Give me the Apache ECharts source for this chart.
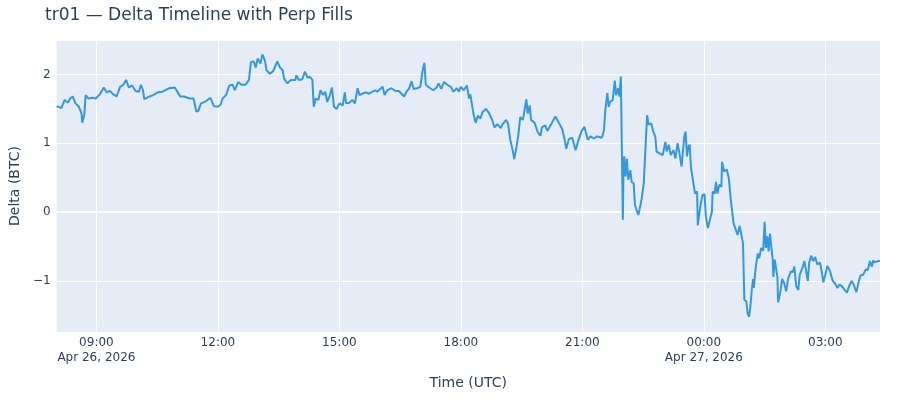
<!DOCTYPE html>
<html>
<head>
<meta charset="utf-8">
<script src="https://cdn.jsdelivr.net/npm/echarts@6/dist/echarts.min.js"></script>
<style>
  html, body { margin: 0; padding: 0; background: #fff; }
  #chart { width: 900px; height: 400px; }
</style>
</head>
<body>
<div id="chart"></div>
<script>
// delta readings
var times = [
  '2026-04-26 08:01','2026-04-26 08:08','2026-04-26 08:13','2026-04-26 08:18','2026-04-26 08:21','2026-04-26 08:25',
  '2026-04-26 08:29','2026-04-26 08:34','2026-04-26 08:38','2026-04-26 08:39','2026-04-26 08:42','2026-04-26 08:44',
  '2026-04-26 08:48','2026-04-26 08:55','2026-04-26 08:59','2026-04-26 09:05','2026-04-26 09:11','2026-04-26 09:15',
  '2026-04-26 09:20','2026-04-26 09:25','2026-04-26 09:30','2026-04-26 09:35','2026-04-26 09:40','2026-04-26 09:44',
  '2026-04-26 09:48','2026-04-26 09:53','2026-04-26 09:58','2026-04-26 10:03','2026-04-26 10:06','2026-04-26 10:09',
  '2026-04-26 10:11','2026-04-26 10:19','2026-04-26 10:24','2026-04-26 10:31','2026-04-26 10:38','2026-04-26 10:48',
  '2026-04-26 10:56','2026-04-26 11:00','2026-04-26 11:04','2026-04-26 11:10','2026-04-26 11:18','2026-04-26 11:24',
  '2026-04-26 11:28','2026-04-26 11:31','2026-04-26 11:35','2026-04-26 11:42','2026-04-26 11:49','2026-04-26 11:54',
  '2026-04-26 12:00','2026-04-26 12:04','2026-04-26 12:07','2026-04-26 12:12','2026-04-26 12:17','2026-04-26 12:22',
  '2026-04-26 12:25','2026-04-26 12:30','2026-04-26 12:35','2026-04-26 12:41','2026-04-26 12:46','2026-04-26 12:49',
  '2026-04-26 12:53','2026-04-26 12:56','2026-04-26 12:59','2026-04-26 13:03','2026-04-26 13:06','2026-04-26 13:10',
  '2026-04-26 13:12','2026-04-26 13:17','2026-04-26 13:22','2026-04-26 13:28','2026-04-26 13:32','2026-04-26 13:36',
  '2026-04-26 13:38','2026-04-26 13:43','2026-04-26 13:48','2026-04-26 13:55','2026-04-26 13:56','2026-04-26 14:00',
  '2026-04-26 14:05','2026-04-26 14:09','2026-04-26 14:13','2026-04-26 14:16','2026-04-26 14:20','2026-04-26 14:22',
  '2026-04-26 14:25','2026-04-26 14:29','2026-04-26 14:32','2026-04-26 14:36','2026-04-26 14:39','2026-04-26 14:42',
  '2026-04-26 14:46','2026-04-26 14:49','2026-04-26 14:52','2026-04-26 14:56','2026-04-26 15:00','2026-04-26 15:05',
  '2026-04-26 15:08','2026-04-26 15:10','2026-04-26 15:15','2026-04-26 15:19','2026-04-26 15:23','2026-04-26 15:27',
  '2026-04-26 15:30','2026-04-26 15:34','2026-04-26 15:39','2026-04-26 15:44','2026-04-26 15:49','2026-04-26 15:53',
  '2026-04-26 15:56','2026-04-26 16:04','2026-04-26 16:07','2026-04-26 16:11','2026-04-26 16:17','2026-04-26 16:23',
  '2026-04-26 16:28','2026-04-26 16:32','2026-04-26 16:36','2026-04-26 16:40','2026-04-26 16:43','2026-04-26 16:47',
  '2026-04-26 16:50','2026-04-26 16:55','2026-04-26 17:00','2026-04-26 17:03','2026-04-26 17:06','2026-04-26 17:08',
  '2026-04-26 17:13','2026-04-26 17:19','2026-04-26 17:24','2026-04-26 17:27','2026-04-26 17:31','2026-04-26 17:35',
  '2026-04-26 17:40','2026-04-26 17:45','2026-04-26 17:49','2026-04-26 17:54','2026-04-26 17:57','2026-04-26 18:00',
  '2026-04-26 18:04','2026-04-26 18:09','2026-04-26 18:12','2026-04-26 18:14','2026-04-26 18:19','2026-04-26 18:22',
  '2026-04-26 18:25','2026-04-26 18:29','2026-04-26 18:32','2026-04-26 18:37','2026-04-26 18:41','2026-04-26 18:46',
  '2026-04-26 18:50','2026-04-26 18:54','2026-04-26 18:59','2026-04-26 19:02','2026-04-26 19:07','2026-04-26 19:10',
  '2026-04-26 19:13','2026-04-26 19:17','2026-04-26 19:19','2026-04-26 19:22','2026-04-26 19:25','2026-04-26 19:28',
  '2026-04-26 19:32','2026-04-26 19:35','2026-04-26 19:37','2026-04-26 19:39','2026-04-26 19:42','2026-04-26 19:44',
  '2026-04-26 19:49','2026-04-26 19:54','2026-04-26 19:58','2026-04-26 20:00','2026-04-26 20:05','2026-04-26 20:08',
  '2026-04-26 20:11','2026-04-26 20:15','2026-04-26 20:20','2026-04-26 20:25','2026-04-26 20:30','2026-04-26 20:34',
  '2026-04-26 20:36','2026-04-26 20:40','2026-04-26 20:45','2026-04-26 20:50','2026-04-26 20:54','2026-04-26 20:59',
  '2026-04-26 21:03','2026-04-26 21:08','2026-04-26 21:12','2026-04-26 21:17','2026-04-26 21:22','2026-04-26 21:29',
  '2026-04-26 21:32','2026-04-26 21:34','2026-04-26 21:37','2026-04-26 21:39','2026-04-26 21:41','2026-04-26 21:45',
  '2026-04-26 21:48','2026-04-26 21:50','2026-04-26 21:53','2026-04-26 21:55','2026-04-26 21:57','2026-04-26 22:00',
  '2026-04-26 22:01','2026-04-26 22:02','2026-04-26 22:04','2026-04-26 22:06','2026-04-26 22:08','2026-04-26 22:11',
  '2026-04-26 22:13','2026-04-26 22:16','2026-04-26 22:18','2026-04-26 22:21','2026-04-26 22:23','2026-04-26 22:26',
  '2026-04-26 22:28','2026-04-26 22:31','2026-04-26 22:33','2026-04-26 22:36','2026-04-26 22:38','2026-04-26 22:42',
  '2026-04-26 22:45','2026-04-26 22:48','2026-04-26 22:50','2026-04-26 22:55','2026-04-26 22:59','2026-04-26 23:03',
  '2026-04-26 23:05','2026-04-26 23:08','2026-04-26 23:11','2026-04-26 23:15','2026-04-26 23:18','2026-04-26 23:21',
  '2026-04-26 23:24','2026-04-26 23:27','2026-04-26 23:31','2026-04-26 23:33','2026-04-26 23:35','2026-04-26 23:37',
  '2026-04-26 23:39','2026-04-26 23:41','2026-04-26 23:43','2026-04-26 23:47','2026-04-26 23:50','2026-04-26 23:51',
  '2026-04-26 23:55','2026-04-26 23:58','2026-04-27 00:01','2026-04-27 00:03','2026-04-27 00:06','2026-04-27 00:09',
  '2026-04-27 00:12','2026-04-27 00:13','2026-04-27 00:16','2026-04-27 00:18','2026-04-27 00:20','2026-04-27 00:23',
  '2026-04-27 00:26','2026-04-27 00:27','2026-04-27 00:30','2026-04-27 00:34','2026-04-27 00:37','2026-04-27 00:40',
  '2026-04-27 00:44','2026-04-27 00:46','2026-04-27 00:50','2026-04-27 00:53','2026-04-27 00:55','2026-04-27 00:58',
  '2026-04-27 01:00','2026-04-27 01:03','2026-04-27 01:05','2026-04-27 01:07','2026-04-27 01:09','2026-04-27 01:11',
  '2026-04-27 01:13','2026-04-27 01:14','2026-04-27 01:17','2026-04-27 01:20','2026-04-27 01:22','2026-04-27 01:25',
  '2026-04-27 01:28','2026-04-27 01:30','2026-04-27 01:32','2026-04-27 01:34','2026-04-27 01:36','2026-04-27 01:38',
  '2026-04-27 01:40','2026-04-27 01:42','2026-04-27 01:43','2026-04-27 01:45','2026-04-27 01:47','2026-04-27 01:49',
  '2026-04-27 01:50','2026-04-27 01:53','2026-04-27 01:56','2026-04-27 01:59','2026-04-27 02:02','2026-04-27 02:05',
  '2026-04-27 02:09','2026-04-27 02:12','2026-04-27 02:14','2026-04-27 02:17','2026-04-27 02:20','2026-04-27 02:22',
  '2026-04-27 02:26','2026-04-27 02:29','2026-04-27 02:31','2026-04-27 02:34','2026-04-27 02:36','2026-04-27 02:39',
  '2026-04-27 02:42','2026-04-27 02:45','2026-04-27 02:48','2026-04-27 02:52','2026-04-27 02:55','2026-04-27 02:57',
  '2026-04-27 03:00','2026-04-27 03:03','2026-04-27 03:07','2026-04-27 03:11','2026-04-27 03:14','2026-04-27 03:18',
  '2026-04-27 03:21','2026-04-27 03:24','2026-04-27 03:28','2026-04-27 03:32','2026-04-27 03:35','2026-04-27 03:39',
  '2026-04-27 03:42','2026-04-27 03:46','2026-04-27 03:49','2026-04-27 03:52','2026-04-27 03:56','2026-04-27 04:00',
  '2026-04-27 04:03','2026-04-27 04:06','2026-04-27 04:09','2026-04-27 04:11','2026-04-27 04:13','2026-04-27 04:18',
  '2026-04-27 04:21'
];
var delta = [
  1.54,1.51,1.63,1.59,1.65,1.68,
  1.58,1.53,1.43,1.30,1.41,1.70,
  1.65,1.66,1.65,1.71,1.81,1.74,
  1.76,1.71,1.68,1.82,1.85,1.92,
  1.81,1.84,1.76,1.75,1.85,1.77,
  1.64,1.68,1.70,1.74,1.75,1.80,
  1.81,1.75,1.68,1.68,1.65,1.65,
  1.46,1.47,1.58,1.61,1.66,1.54,
  1.53,1.56,1.65,1.70,1.84,1.85,
  1.77,1.89,1.85,1.85,1.92,2.18,
  2.19,2.10,2.23,2.16,2.29,2.19,
  2.06,2.01,2.05,2.19,2.10,2.06,
  1.94,1.87,1.92,1.92,1.99,1.92,
  1.93,2.04,1.95,1.97,1.92,1.53,
  1.65,1.63,1.77,1.70,1.75,1.60,
  1.70,1.81,1.53,1.50,1.58,1.55,
  1.74,1.58,1.59,1.63,1.58,1.80,
  1.70,1.72,1.74,1.72,1.75,1.77,
  1.75,1.82,1.70,1.77,1.80,1.76,
  1.76,1.72,1.68,1.76,1.79,1.90,
  1.79,1.80,1.82,2.04,2.17,1.85,
  1.81,1.77,1.81,1.87,1.79,1.89,
  1.85,1.82,1.75,1.80,1.75,1.82,
  1.77,1.84,1.65,1.71,1.41,1.30,
  1.40,1.36,1.45,1.50,1.45,1.35,
  1.23,1.28,1.22,1.28,1.34,1.28,
  1.06,0.89,0.77,0.92,1.11,1.38,
  1.34,1.52,1.64,1.43,1.55,1.34,
  1.30,1.16,1.11,1.23,1.26,1.18,
  1.23,1.30,1.39,1.30,1.21,1.04,
  0.92,1.06,1.08,0.90,1.04,1.18,
  1.24,1.05,1.10,1.07,1.10,1.08,
  1.19,1.48,1.73,1.53,1.60,1.63,
  1.91,1.70,1.80,1.68,1.97,-0.11,
  0.66,0.81,0.52,0.78,0.47,0.61,
  0.44,0.42,0.10,0.01,-0.04,0.10,
  0.20,0.42,0.83,1.41,1.27,1.29,
  1.17,1.10,0.88,0.85,0.83,1.02,
  0.88,0.98,0.83,0.90,0.78,1.00,
  0.85,0.66,1.10,1.17,0.81,0.95,
  0.98,0.64,0.66,0.27,0.30,-0.19,
  0.10,0.25,0.26,-0.06,-0.23,-0.11,
  0.01,0.30,0.27,0.44,0.27,0.40,
  0.37,0.73,0.59,0.62,0.49,0.18,
  -0.16,-0.14,-0.33,-0.20,-0.21,-0.45,
  -1.27,-1.30,-1.47,-1.52,-1.37,-1.13,
  -0.97,-1.10,-0.79,-0.60,-0.67,-0.52,
  -0.56,-0.14,-0.52,-0.35,-0.57,-0.31,
  -0.31,-0.69,-0.94,-0.69,-0.69,-0.94,
  -1.31,-1.18,-0.97,-1.03,-1.15,-0.96,
  -0.86,-0.87,-0.79,-1.08,-1.13,-0.91,
  -0.81,-0.71,-0.71,-1.00,-0.74,-0.63,
  -0.71,-0.65,-0.76,-0.73,-0.88,-1.02,
  -0.91,-0.78,-0.86,-1.00,-1.03,-1.10,
  -1.05,-1.07,-1.12,-1.17,-1.08,-1.00,
  -1.05,-1.16,-1.03,-0.92,-0.91,-0.83,
  -0.84,-0.71,-0.79,-0.70,-0.73,-0.71,
  -0.71
];
// x tick positions and the date line plotly puts under some of them
var xTicks = ['2026-04-26 09:00','2026-04-26 12:00','2026-04-26 15:00','2026-04-26 18:00',
              '2026-04-26 21:00','2026-04-27 00:00','2026-04-27 03:00'];
var xTickLabels = ['09:00','12:00','15:00','18:00','21:00','00:00','03:00'];
var xTickDates = ['Apr 26, 2026','','','','','Apr 27, 2026',''];

var chart = echarts.init(document.getElementById('chart'));

function ms(s) { return echarts.time.parse(s).getTime(); }

var pts = [];
for (var i = 0; i < times.length; i++) {
  pts.push([ms(times[i]), delta[i]]);
}
var tickMs = xTicks.map(ms);

var txt = '#2a3f5f';
var font = 'Verdana, "DejaVu Sans", sans-serif';

chart.setOption({
  animation: false,
  backgroundColor: '#fff',
  textStyle: { fontFamily: font },
  title: {
    text: 'tr01 — Delta Timeline with Perp Fills',
    left: 40,
    top: 2,
    textStyle: { fontFamily: font, fontSize: 17, fontWeight: 'normal', color: txt }
  },
  grid: { left: 55, right: 20, top: 40, bottom: 68, containLabel: false,
          show: true, backgroundColor: '#E5ECF6', borderWidth: 0 },
  xAxis: {
    type: 'value',
    min: ms(times[0]),
    max: ms(times[times.length - 1]),
    name: 'Time (UTC)',
    nameLocation: 'middle',
    nameGap: 44,
    nameTextStyle: { fontSize: 14, color: txt, fontFamily: font },
    axisLine: { show: false },
    axisTick: { show: false, customValues: tickMs },
    axisLabel: {
      customValues: tickMs,
      color: txt,
      fontSize: 12,
      lineHeight: 15,
      margin: 3,
      formatter: function (v) {
        var k = tickMs.indexOf(v);
        if (k < 0) return '';
        var s = xTickLabels[k];
        if (xTickDates[k]) s += '\n' + xTickDates[k];
        return s;
      }
    },
    splitLine: { show: true, lineStyle: { color: '#fff', width: 1 } }
  },
  yAxis: {
    type: 'value',
    min: -1.74,
    max: 2.5,
    splitNumber: 4,
    name: 'Delta (BTC)',
    nameLocation: 'middle',
    nameGap: 34,
    nameTextStyle: { fontSize: 14, color: txt, fontFamily: font },
    axisLine: { show: false },
    axisTick: { show: false },
    axisLabel: {
      color: txt,
      fontSize: 12,
      margin: 6,
      showMinLabel: false,
      showMaxLabel: false,
      formatter: function (v) {
        return v < 0 ? '\u2212' + Math.abs(v) : '' + v;
      }
    },
    splitLine: { show: true, lineStyle: { color: '#fff', width: 1 } }
  },
  series: [{
    type: 'line',
    data: pts,
    showSymbol: false,
    lineStyle: { color: '#3498db', width: 2 },
    itemStyle: { color: '#3498db' },
    z: 3,
    markLine: {
      silent: true,
      symbol: 'none',
      z: 1,
      label: { show: false },
      lineStyle: { color: '#fff', width: 2, type: 'solid' },
      data: [{ yAxis: 0 }]
    }
  }]
});
</script>
</body>
</html>
